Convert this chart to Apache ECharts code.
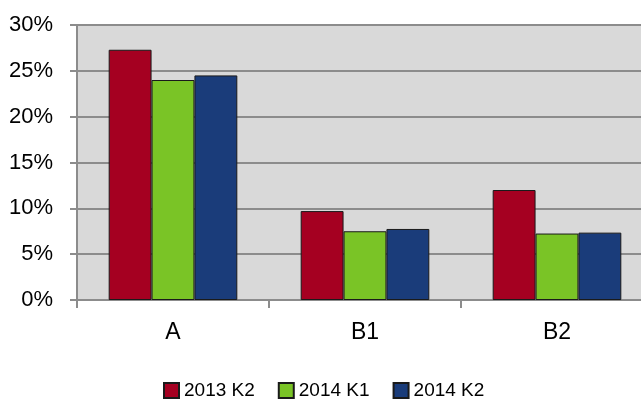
<!DOCTYPE html>
<html>
<head>
<meta charset="utf-8">
<script src="https://cdn.jsdelivr.net/npm/echarts@6/dist/echarts.min.js"></script>
<style>
  html, body { margin: 0; padding: 0; background: #ffffff; overflow: hidden; }
  #chart { width: 641px; height: 399px; }
</style>
</head>
<body>
<div id="chart"></div>
<script>
// Categories and quarterly shares (percent)
const categories = ['A', 'B1', 'B2'];
const s2013K2 = [27.3, 9.7, 12.0];
const s2014K1 = [24.0, 7.5, 7.25];
const s2014K2 = [24.5, 7.75, 7.35];
const seriesNames = ['2013 K2', '2014 K1', '2014 K2'];
const seriesColors = ['#a50021', '#7ac426', '#1a3c7a'];
const yTicks = { min: 0, max: 30, step: 5 };

const font = '"Liberation Sans", Arial, sans-serif';
const gridGray = '#8c8c8c';

const chart = echarts.init(document.getElementById('chart'), null, { renderer: 'canvas' });

const values = [s2013K2, s2014K1, s2014K2];

chart.setOption({
  animation: false,
  backgroundColor: '#ffffff',
  grid: {
    left: 77, top: 25, width: 576, bottom: 99,
    outerBoundsMode: 'none',
    containLabel: false,
    show: true, backgroundColor: '#d9d9d9', borderWidth: 0
  },
  legend: {
    top: 381,
    left: 163,
    padding: 0,
    itemWidth: 15,
    itemHeight: 15,
    itemGap: 23,
    icon: 'rect',
    textStyle: { fontFamily: font, fontSize: 19, color: '#000000' },
    data: seriesNames
  },
  xAxis: {
    type: 'category',
    data: categories,
    axisLine: { show: true, lineStyle: { color: gridGray, width: 2 } },
    axisTick: { show: true, length: 8, lineStyle: { color: gridGray, width: 2 } },
    axisLabel: { fontFamily: font, fontSize: 23, color: '#000000', margin: 21 }
  },
  yAxis: {
    type: 'value',
    min: yTicks.min,
    max: yTicks.max,
    interval: yTicks.step,
    axisLine: { show: true, lineStyle: { color: gridGray, width: 2 } },
    axisTick: { show: true, length: 7, lineStyle: { color: gridGray, width: 2 } },
    splitLine: { show: true, lineStyle: { color: gridGray, width: 2 } },
    axisLabel: {
      fontFamily: font, fontSize: 22, color: '#000000', margin: 24,
      formatter: '{value}%'
    }
  },
  series: seriesNames.map((name, i) => ({
    name: name,
    type: 'bar',
    data: values[i],
    barGap: '0%',
    barCategoryGap: '33%',
    itemStyle: { color: seriesColors[i], borderColor: '#1a1a1a', borderWidth: 1 }
  }))
});
</script>
</body>
</html>
